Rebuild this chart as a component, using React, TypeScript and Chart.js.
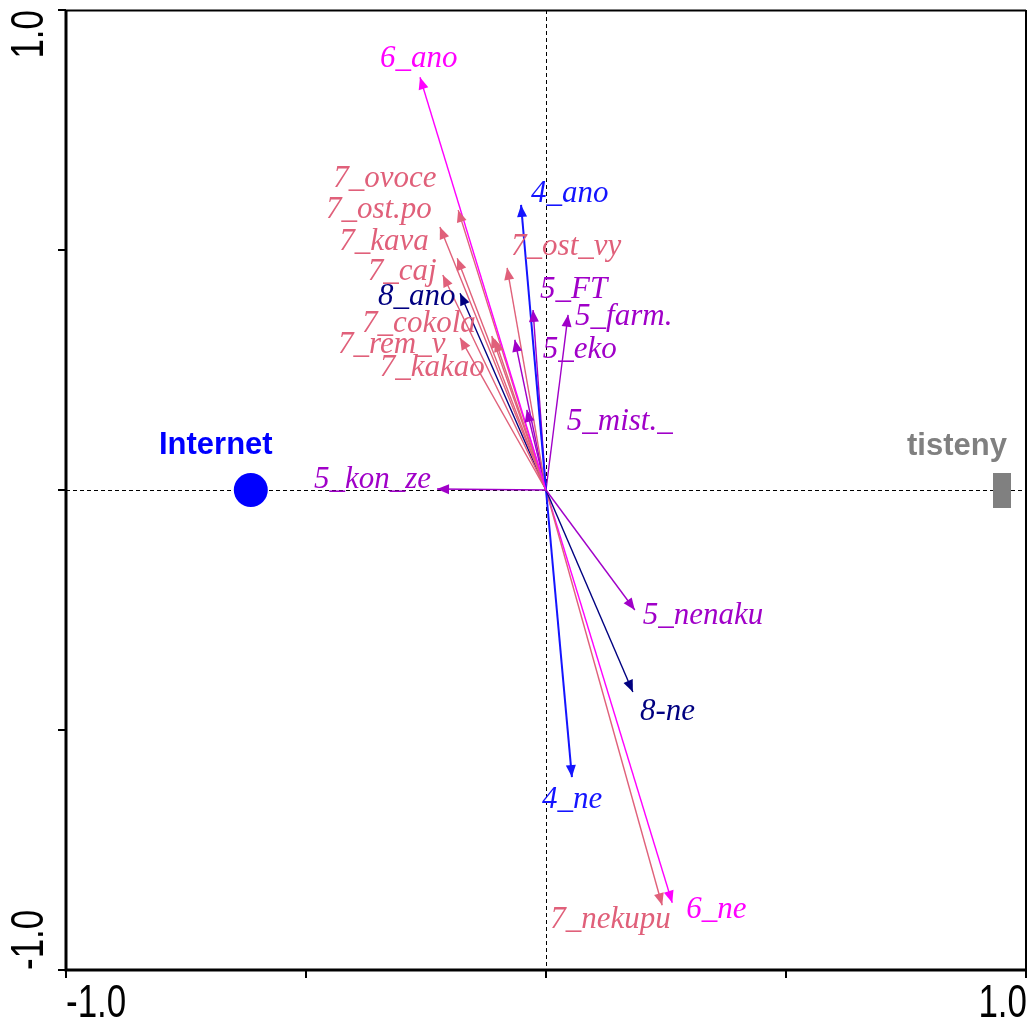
import React, { useEffect, useRef } from "react";
import { Chart, registerables } from "chart.js";
Chart.register(...registerables);

// ---- data ----
const arrowNames = [
  "6_ano", "4_ano", "7_ovoce", "7_ost.po", "7_kava", "7_caj", "7_ost_vy", "8_ano",
  "5_FT", "5_farm.", "7_rem_v", "7_cokola", "7_kakao", "5_eko", "5_mist._", "5_kon_ze",
  "5_nenaku", "8-ne", "4_ne", "7_nekupu", "6_ne",
];
const arrowX = [
  -0.2625, -0.052, -0.183, -0.221, -0.185, -0.215, -0.081, -0.179,
  -0.027, 0.046, -0.179, -0.106, -0.113, -0.065, -0.04, -0.227,
  0.185, 0.181, 0.054, 0.242, 0.263,
];
const arrowY = [
  0.86, 0.594, 0.583, 0.548, 0.483, 0.448, 0.463, 0.41,
  0.375, 0.365, 0.317, 0.313, 0.321, 0.313, 0.167, 0.002,
  -0.25, -0.421, -0.598, -0.865, -0.86,
];
const arrowGroup = [
  "6", "4", "7", "7", "7", "7", "7", "8",
  "5", "5", "7", "7", "7", "5", "5", "5",
  "5", "8", "4", "7", "6",
];
// label offsets (px) from arrow tip: left edge of text, vertical centre
const labelDX = [-40, 10, -125, -114, -118, -75, 4, -82, 7, 7, -122, -133, -112, 28, 40, -123, 8, 7, -30, -112, 14];
const labelDY = [-18, -11, -31, -17, -16, -3, -21, 4, -20, 2, 7, -16, 32, 10, 12, -9, 6, 20, 23, 15, 7];

const pointNames = ["Internet", "tisteny"];
const pointX = [-0.615, 0.95];
const pointY = [0, 0];

const axisTicks = [-1, -0.5, 0, 0.5, 1];
const axisLabels = ["-1.0", "1.0"];

const groupColor: Record<string, string> = {
  "4": "#1414FF",
  "5": "#A000C8",
  "6": "#FF00FF",
  "7": "#E0607A",
  "8": "#000080",
};
const pointColor = ["#0000FF", "#808080"];

export default function App() {
  const ref = useRef<HTMLCanvasElement | null>(null);
  useEffect(() => {
    const canvas = ref.current!;
    const rectImg = document.createElement("canvas");
    rectImg.width = 18;
    rectImg.height = 35;
    const rc = rectImg.getContext("2d")!;
    rc.fillStyle = "#808080";
    rc.fillRect(0, 0, 18, 35);

    const datasets: any[] = arrowNames.map((n, i) => ({
      label: n,
      data: [
        { x: 0, y: 0 },
        { x: arrowX[i], y: arrowY[i] },
      ],
      showLine: true,
      borderColor: groupColor[arrowGroup[i]],
      borderWidth: arrowGroup[i] === "4" ? 2 : 1.4,
      pointRadius: 0,
      fill: false,
    }));
    datasets.push({
      label: pointNames[0],
      data: [{ x: pointX[0], y: pointY[0] }],
      pointRadius: 17,
      pointStyle: "circle",
      backgroundColor: pointColor[0],
      borderColor: pointColor[0],
      borderWidth: 0,
    });
    datasets.push({
      label: pointNames[1],
      data: [{ x: pointX[1], y: pointY[1] }],
      pointStyle: rectImg,
      pointRadius: 18,
    });

    const framePlugin = {
      id: "frame",
      beforeDatasetsDraw(chart: any) {
        const ctx = chart.ctx as CanvasRenderingContext2D;
        const xs = chart.scales.x, ys = chart.scales.y;
        const L = xs.getPixelForValue(-1), R = xs.getPixelForValue(1);
        const T = ys.getPixelForValue(1), B = ys.getPixelForValue(-1);
        const x0 = xs.getPixelForValue(0), y0 = ys.getPixelForValue(0);
        ctx.save();
        ctx.strokeStyle = "#000";
        ctx.lineWidth = 1;
        ctx.setLineDash([4, 3]);
        ctx.beginPath();
        ctx.moveTo(x0 + 0.5, T);
        ctx.lineTo(x0 + 0.5, B);
        ctx.moveTo(L, y0 + 0.5);
        ctx.lineTo(R, y0 + 0.5);
        ctx.stroke();
        ctx.restore();
      },
      afterDatasetsDraw(chart: any) {
        const ctx = chart.ctx as CanvasRenderingContext2D;
        const xs = chart.scales.x, ys = chart.scales.y;
        const L = xs.getPixelForValue(-1), R = xs.getPixelForValue(1);
        const T = ys.getPixelForValue(1), B = ys.getPixelForValue(-1);
        const x0 = xs.getPixelForValue(0), y0 = ys.getPixelForValue(0);
        ctx.save();
        // arrowheads
        arrowNames.forEach((n, i) => {
          const tx = xs.getPixelForValue(arrowX[i]);
          const ty = ys.getPixelForValue(arrowY[i]);
          const ang = Math.atan2(ty - y0, tx - x0);
          const len = 12, w = 5;
          const bx = tx - len * Math.cos(ang), by = ty - len * Math.sin(ang);
          ctx.fillStyle = groupColor[arrowGroup[i]];
          ctx.beginPath();
          ctx.moveTo(tx, ty);
          ctx.lineTo(bx - w * Math.sin(ang), by + w * Math.cos(ang));
          ctx.lineTo(bx + w * Math.sin(ang), by - w * Math.cos(ang));
          ctx.closePath();
          ctx.fill();
        });
        // arrow labels
        ctx.font = "italic 31px 'Liberation Serif', 'Times New Roman', serif";
        ctx.textBaseline = "middle";
        ctx.textAlign = "left";
        arrowNames.forEach((n, i) => {
          const tx = xs.getPixelForValue(arrowX[i]);
          const ty = ys.getPixelForValue(arrowY[i]);
          ctx.fillStyle = groupColor[arrowGroup[i]];
          ctx.fillText(n, tx + labelDX[i], ty + labelDY[i]);
        });
        // point labels
        ctx.font = "bold 31px 'Liberation Sans', Arial, sans-serif";
        ctx.textAlign = "center";
        ctx.fillStyle = pointColor[0];
        ctx.fillText(pointNames[0], xs.getPixelForValue(pointX[0]) - 35, ys.getPixelForValue(pointY[0]) - 45);
        ctx.fillStyle = pointColor[1];
        ctx.fillText(pointNames[1], xs.getPixelForValue(pointX[1]) - 45, ys.getPixelForValue(pointY[1]) - 44);

        // frame
        ctx.strokeStyle = "#000";
        ctx.setLineDash([]);
        ctx.lineWidth = 2;
        ctx.beginPath();
        ctx.moveTo(L, T + 0.5);
        ctx.lineTo(R, T + 0.5);
        ctx.moveTo(R, T);
        ctx.lineTo(R, B);
        ctx.stroke();
        ctx.lineWidth = 3;
        ctx.beginPath();
        ctx.moveTo(L, T);
        ctx.lineTo(L, B + 1.5);
        ctx.moveTo(L - 1.5, B);
        ctx.lineTo(R + 1, B);
        ctx.stroke();
        // ticks
        ctx.lineWidth = 2;
        ctx.beginPath();
        axisTicks.forEach((t) => {
          const px = xs.getPixelForValue(t);
          ctx.moveTo(px, B);
          ctx.lineTo(px, B + 8);
          const py = ys.getPixelForValue(t);
          ctx.moveTo(L, py);
          ctx.lineTo(L - 8, py);
        });
        ctx.stroke();
        // tick labels (tall, narrow sans)
        ctx.fillStyle = "#000";
        ctx.font = "46px 'Liberation Sans', Arial, sans-serif";
        ctx.textBaseline = "middle";
        const sx = 0.76;
        // x axis
        ctx.save();
        ctx.translate(L, B + 34);
        ctx.scale(sx, 1);
        ctx.textAlign = "left";
        ctx.fillText(axisLabels[0], 0, 0);
        ctx.restore();
        ctx.save();
        ctx.translate(R + 1, B + 34);
        ctx.scale(sx, 1);
        ctx.textAlign = "right";
        ctx.fillText(axisLabels[1], 0, 0);
        ctx.restore();
        // y axis (rotated)
        ctx.save();
        ctx.translate(L - 36, T);
        ctx.rotate(-Math.PI / 2);
        ctx.scale(sx, 1);
        ctx.textAlign = "right";
        ctx.fillText(axisLabels[1], 0, 0);
        ctx.restore();
        ctx.save();
        ctx.translate(L - 36, B);
        ctx.rotate(-Math.PI / 2);
        ctx.scale(sx, 1);
        ctx.textAlign = "left";
        ctx.fillText(axisLabels[0], 0, 0);
        ctx.restore();
        ctx.restore();
      },
    };

    const chart = new Chart(canvas, {
      type: "scatter",
      data: { datasets },
      options: {
        responsive: false,
        animation: false,
        layout: { autoPadding: false, padding: { left: 66, top: 10, right: 7, bottom: 58 } },
        scales: {
          x: { type: "linear", min: -1, max: 1, display: false },
          y: { type: "linear", min: -1, max: 1, display: false },
        },
        plugins: { legend: { display: false }, tooltip: { enabled: false } },
      },
      plugins: [framePlugin],
    } as any);
    return () => chart.destroy();
  }, []);

  return (
    <div style={{ position: "fixed", left: 0, top: 0, width: 1033, height: 1028, background: "#fff" }}>
      <canvas ref={ref} width={1033} height={1028} style={{ width: 1033, height: 1028 }} />
    </div>
  );
}
